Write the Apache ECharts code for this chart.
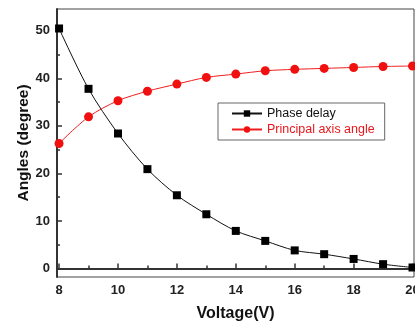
<!DOCTYPE html>
<html>
<head>
<meta charset="utf-8">
<script src="https://cdn.jsdelivr.net/npm/echarts@6/dist/echarts.min.js"></script>
<style>
  html, body { margin: 0; padding: 0; background: #fff; }
  #chart { width: 415px; height: 324px; }
</style>
</head>
<body>
<div id="chart"></div>
<script>
const voltage = [8, 9, 10, 11, 12, 13, 14, 15, 16, 17, 18, 19, 20];
const phaseDelay = [50.5, 37.8, 28.4, 20.9, 15.4, 11.4, 7.9, 5.8, 3.8, 3.0, 2.0, 0.9, 0.2];
const principalAngle = [26.3, 31.9, 35.3, 37.3, 38.8, 40.2, 40.9, 41.6, 41.9, 42.1, 42.3, 42.5, 42.6];
const xTicks = [8, 10, 12, 14, 16, 18, 20];
const xMinorTicks = [9, 11, 13, 15, 17, 19];
const yTicks = [0, 10, 20, 30, 40, 50];
const yMinorTicks = [5, 15, 25, 35, 45];

const axisColor = '#333';
const labelFont = { fontFamily: 'Liberation Sans, Arial', fontWeight: 'bold', fontSize: 13, color: '#222' };
const xRange = { min: 7.93, max: 20.05 };
const yRange = { min: -1.8, max: 54.6 };

const chart = echarts.init(document.getElementById('chart'));

const option = {
  animation: false,
  grid: {
    left: 57, right: 1, top: 9, bottom: 47,
    outerBoundsMode: 'none',
    show: true, borderColor: '#444', borderWidth: 1, backgroundColor: 'transparent'
  },
  legend: {
    orient: 'vertical',
    left: 218, top: 103,
    padding: [4, 10, 4, 13],
    itemWidth: 30, itemHeight: 8, itemGap: 3,
    borderColor: '#666', borderWidth: 1,
    textStyle: { fontFamily: 'Liberation Sans, Arial', fontSize: 12.5 },
    data: [
      { name: 'Phase delay', textStyle: { color: '#111' } },
      { name: 'Principal axis angle', textStyle: { color: '#e8161b' } }
    ]
  },
  xAxis: [
    {
      type: 'value', ...xRange,
      name: 'Voltage(V)', nameLocation: 'middle', nameGap: 29,
      nameTextStyle: { fontFamily: 'Liberation Sans, Arial', fontWeight: 'bold', fontSize: 16, color: '#111' },
      axisLine: { show: true, lineStyle: { color: axisColor, width: 2 } },
      axisTick: { show: true, inside: true, length: 5, customValues: xTicks, lineStyle: { color: axisColor, width: 1.5 } },
      axisLabel: { ...labelFont, margin: 7, customValues: xTicks },
      splitLine: { show: false }
    },
    {
      type: 'value', ...xRange, position: 'bottom',
      axisLine: { show: false },
      axisTick: { show: true, inside: true, length: 3, customValues: xMinorTicks, lineStyle: { color: axisColor, width: 1.5 } },
      axisLabel: { show: false },
      splitLine: { show: false }
    }
  ],
  yAxis: [
    {
      type: 'value', ...yRange,
      name: 'Angles (degree)', nameLocation: 'middle', nameGap: 25, nameRotate: 90,
      nameMoveOverlap: false,
      nameTextStyle: { fontFamily: 'Liberation Sans, Arial', fontWeight: 'bold', fontSize: 15.5, color: '#111' },
      axisLine: { show: true, lineStyle: { color: axisColor, width: 2 } },
      axisTick: { show: true, inside: true, length: 5, customValues: yTicks, lineStyle: { color: axisColor, width: 1.5 } },
      axisLabel: { ...labelFont, margin: 7, customValues: yTicks },
      splitLine: { show: false }
    },
    {
      type: 'value', ...yRange, position: 'left',
      axisLine: { show: false },
      axisTick: { show: true, inside: true, length: 3, customValues: yMinorTicks, lineStyle: { color: axisColor, width: 1.5 } },
      axisLabel: { show: false },
      splitLine: { show: false }
    }
  ],
  series: [
    {
      name: 'Phase delay', type: 'line',
      data: voltage.map((v, i) => [v, phaseDelay[i]]),
      symbol: 'rect', symbolSize: 8, smooth: 0.3,
      lineStyle: { color: '#111', width: 1 },
      itemStyle: { color: '#000' }
    },
    {
      name: 'Principal axis angle', type: 'line',
      data: voltage.map((v, i) => [v, principalAngle[i]]),
      symbol: 'circle', symbolSize: 9, smooth: 0.3,
      lineStyle: { color: '#f01c1c', width: 1 },
      itemStyle: { color: '#f01010' }
    }
  ]
};

chart.setOption(option);
</script>
</body>
</html>
